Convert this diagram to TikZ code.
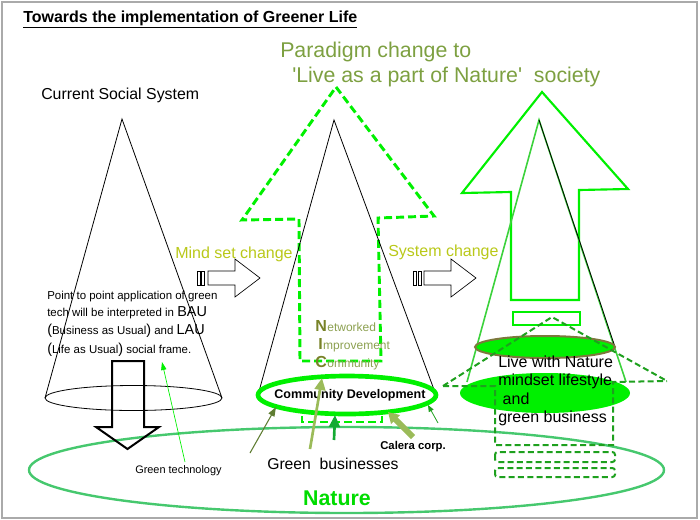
\documentclass[tikz,border=0pt]{standalone}
\usepackage{fontspec}
\setmainfont{Liberation Sans}
\usetikzlibrary{positioning,arrows.meta}

\definecolor{framegray}{RGB}{170,170,170}
\definecolor{brightgreen}{RGB}{0,240,0}
\definecolor{naturegreen}{RGB}{70,200,110}
\definecolor{naturetext}{RGB}{0,220,0}
\definecolor{housegreen}{RGB}{30,160,30}
\definecolor{paradigm}{RGB}{125,160,65}
\definecolor{mindset}{RGB}{185,200,25}
\definecolor{nicolive}{RGB}{120,130,40}
\definecolor{niclight}{RGB}{140,160,80}
\definecolor{olivedark}{RGB}{95,125,50}
\definecolor{olivelight}{RGB}{155,187,89}
\definecolor{arrowgreen}{RGB}{20,170,50}
\definecolor{ellborder}{RGB}{125,120,60}
\definecolor{conegreen}{RGB}{60,210,60}

\newcommand{\fsz}[2]{\fontsize{#1}{#2}\selectfont}

\tikzset{
  txt/.style={inner sep=0pt, anchor=base west},
  conelines/.style={draw=black, line width=0.6pt},
  greenglow/.style={draw=brightgreen, line width=2.2pt, dash pattern=on 6pt off 3pt},
  housedash/.style={draw=housegreen, line width=1.5pt, dash pattern=on 4.5pt off 2.5pt},
  shiftarrow/.style={draw=black, line width=0.5pt, fill=white},
}

\begin{document}
\begin{tikzpicture}[x=0.75pt, y=-0.75pt]
    \useasboundingbox (0,0) rectangle (700,519);
    \draw[framegray, line width=1.5pt] (2,1.5) rectangle (697,517.5);

    % title
    \node[txt, font=\bfseries\fsz{12}{14}] (title) at (23,22) {\underline{Towards the implementation of Greener Life}};

    % =========================================================
    % NATURE
    % =========================================================
    \draw[naturegreen, line width=1.8pt] (346.5,470) ellipse [x radius=317.5, y radius=43];
    \node[font=\bfseries\fsz{16}{18}, text=naturetext, inner sep=0pt, anchor=base] (nature) at (337,505) {Nature};

    % =========================================================
    % CURRENT SOCIAL SYSTEM
    % =========================================================
    \node[txt, font=\fsz{11.9}{14}] (current) at (41,99) {Current Social System};
    \coordinate (lApex) at (122,119);
    \draw[conelines] (45,398) -- (lApex) -- (222,398);
    \draw[conelines] (133.5,398) ellipse [x radius=88.5, y radius=12.5];

    % down arrow
    \draw[black, line width=1.5pt, line join=miter] (112,361) -- (144,361) -- (144,427) -- (159,427)
        -- (127.5,449) -- (96,427) -- (112,427) -- cycle;

    \node[txt, font=\fsz{8.6}{10}] (bau1) at (47,299) {Point to point application of green};
    \node[txt, font=\fsz{8.6}{10}] (bau2) at (47,316) {tech will be interpreted in {\fsz{10.8}{12}BAU}};
    \node[txt, font=\fsz{8.6}{10}] (bau3) at (47,334) {{\fsz{10.8}{12}(}Business as Usual{\fsz{10.8}{12})} and {\fsz{10.8}{12}LAU}};
    \node[txt, font=\fsz{8.6}{10}] (bau4) at (47,353) {{\fsz{10.8}{12}(}Life as Usual{\fsz{10.8}{12})} social frame.};

    % green technology
    \node[txt, font=\fsz{8.2}{9}] (greentech) at (135,473) {Green technology};
    \coordinate (gtTail) at (185,462);
    \coordinate (gtHead) at (162,362);
    \draw[brightgreen, line width=0.5pt, -{Triangle[length=6pt,width=4pt]}] (gtTail) -- (gtHead);

    % mind set change
    \node[txt, font=\fsz{12}{14}, text=mindset] (mindset) at (175,258) {Mind set change};
    \draw[shiftarrow] (197,271) rectangle (200,285);
    \draw[shiftarrow] (201,271) rectangle (204,285);
    \draw[shiftarrow] (208,271) -- (235,271) -- (235,259) -- (260,278) -- (235,297) -- (235,285) -- (208,285) -- cycle;

    % =========================================================
    % PARADIGM CHANGE (middle)
    % =========================================================
    \node[txt, font=\fsz{16}{18}, text=paradigm] (paradigm1) at (280,57) {Paradigm change to};
    \node[txt, font=\fsz{16}{18}, text=paradigm] (paradigm2) at (292,82) {\textquotesingle Live as a part of Nature\textquotesingle\ \ society};

    \draw[greenglow] (336,87) -- (434,216) -- (378,218) -- (381,361) -- (300,361) -- (299,219) -- (242,220) -- cycle;
    \draw[greenglow] (302,380) rectangle (382,422);

    \coordinate (mApex) at (334,120);
    \draw[conelines] (258,395) -- (mApex) -- (436,395);

    % NIC
    \node[txt, text=nicolive, font=\bfseries\fsz{12}{14}] (nicN) at (315,331) {N};
    \node[txt, text=niclight, font=\fsz{9}{11}] (nicNrest) at (nicN.base east) {etworked};
    \node[txt, text=nicolive, font=\bfseries\fsz{12}{14}] (nicI) at (318,349) {I};
    \node[txt, text=niclight, font=\fsz{9}{11}] (nicIrest) at (nicI.base east) {mprovement};
    \node[txt, text=nicolive, font=\bfseries\fsz{12}{14}] (nicC) at (315,367) {C};
    \node[txt, text=niclight, font=\fsz{9}{11}] (nicCrest) at (nicC.base east) {ommunity};

    % community development
    \draw[brightgreen, line width=3.5pt, fill=white] (347,395) ellipse [x radius=89, y radius=19];
    \node[font=\bfseries\fsz{9.4}{11}, inner sep=0pt, anchor=base] (cd) at (350,398) {Community Development};

    % arrows into community
    \coordinate (a1Tail) at (250,453);
    \coordinate (a1Head) at (276,407);
    \coordinate (a2Tail) at (310,449);
    \coordinate (a2Head) at (322,378);
    \coordinate (a3Tail) at (334,440);
    \coordinate (a3Head) at (335,415);
    \coordinate (a4Tail) at (413,437);
    \coordinate (a4Head) at (388,412);
    \coordinate (a5Tail) at (438,423);
    \coordinate (a5Head) at (428,405);
    \draw[olivedark, line width=0.8pt, -{Triangle[length=7pt,width=5pt]}] (a1Tail) -- (a1Head);
    \draw[olivelight, line width=2pt, -{Triangle[length=9pt,width=8pt]}] (a2Tail) -- (a2Head);
    \draw[arrowgreen, line width=2pt, -{Triangle[length=9pt,width=8pt]}] (a3Tail) -- (a3Head);
    \draw[olivelight, line width=4.5pt, -{Triangle[length=8pt,width=9pt]}] (a4Tail) -- (a4Head);
    \draw[housegreen, line width=0.6pt, -{Triangle[length=5pt,width=4pt]}] (a5Tail) -- (a5Head);

    \node[txt, font=\fsz{11.8}{14}] (greenbiz) at (267,469) {Green\ \ businesses};
    \node[txt, font=\bfseries\fsz{8.5}{10}] (calera) at (380,449) {Calera corp.};

    % system change
    \node[txt, font=\fsz{12}{14}, text=mindset] (syschange) at (388,256) {System change};
    \draw[shiftarrow] (413,271) rectangle (416,285);
    \draw[shiftarrow] (418,271) rectangle (421,285);
    \draw[shiftarrow] (424,271) -- (451,271) -- (451,259) -- (476,278) -- (451,297) -- (451,285) -- (424,285) -- cycle;

    % =========================================================
    % LIVE WITH NATURE (right)
    % =========================================================
    \draw[brightgreen, line width=1.6pt] (542,92) -- (628,189) -- (579,190) -- (579,300) -- (511,300) -- (511,192) -- (462,193) -- cycle;
    \draw[brightgreen, line width=1.6pt] (513,312) rectangle (580,325);

    \coordinate (rApex) at (539,120);
    \draw[conegreen, line width=1.2pt] (467,382) -- (rApex) -- (626,382);
    \draw[conelines] (rApex) -- (615,347);

    \draw[ellborder, line width=1.5pt, fill=brightgreen] (545,347) ellipse [x radius=70, y radius=11];
    \fill[brightgreen] (545,393) ellipse [x radius=85, y radius=20];

    % house
    \draw[housedash] (443,386) -- (552,317) -- (667,381);
    \draw[housedash] (443,386) -- (495,386) -- (495,445) -- (613,445) -- (613,382) -- (667,381);
    \draw[housedash, rounded corners=2pt] (495,452) rectangle (615,462);
    \draw[housedash, rounded corners=2pt] (495,468) rectangle (615,477);

    \node[txt, font=\fsz{12}{14}] (live1) at (498,367) {Live with Nature};
    \node[txt, font=\fsz{12}{14}] (live2) at (498,385) {mindset lifestyle};
    \node[txt, font=\fsz{12}{14}] (live3) at (498,404) {\ and};
    \node[txt, font=\fsz{12}{14}] (live4) at (498,422) {green business};
\end{tikzpicture}
\end{document}
